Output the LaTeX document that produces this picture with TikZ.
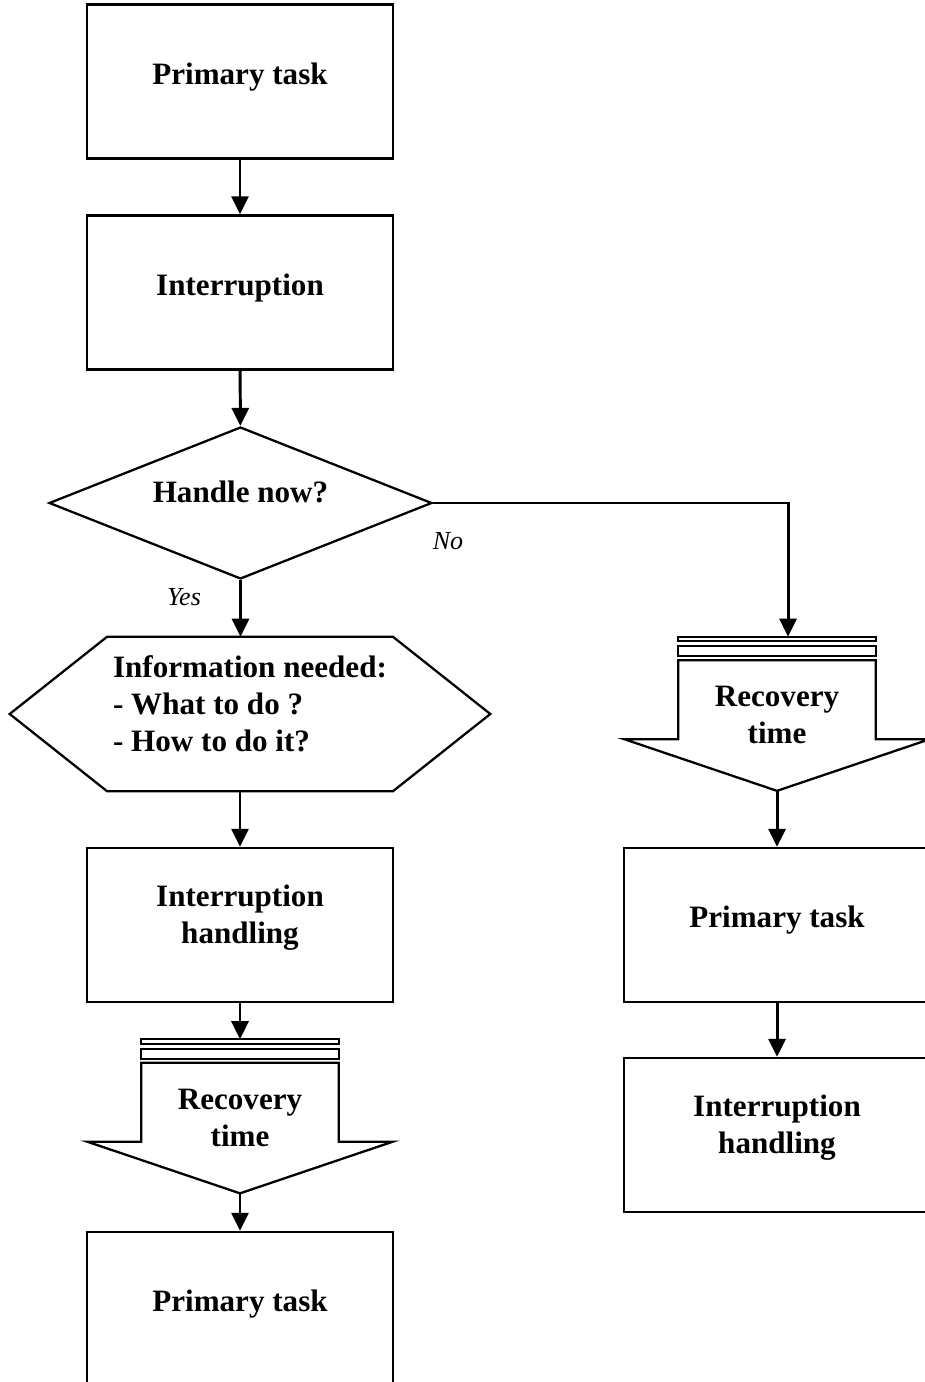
\documentclass[tikz,border=0pt]{standalone}
\usepackage{fontspec}
\setmainfont{Liberation Serif}
\usepackage{tikz}
\usetikzlibrary{shapes.geometric, arrows.meta, positioning, calc}

\begin{document}
\begin{tikzpicture}[
    x=0.02cm, y=-0.02cm,
    oneline/.style={text height=12pt, text depth=9pt},
    multiline/.style={text depth=12pt},
    box/.style={rectangle, draw=black, line width=1.3pt, minimum width=6.12cm, minimum height=3.08cm, inner sep=0pt, align=center, font=\bfseries\fontsize{17.7}{21}\selectfont},
    decision/.style={diamond, draw=black, line width=1.3pt, aspect=2.5, minimum width=7.66cm, minimum height=3.04cm, inner sep=0pt, align=center, text height=12pt, text depth=13pt, font=\bfseries\fontsize{17.7}{21}\selectfont},
    hexa/.style={rectangle, minimum width=9.6cm, minimum height=3.08cm, inner sep=0pt, align=left, multiline, font=\bfseries\fontsize{17.7}{21}\selectfont},
    recov/.style={rectangle, minimum width=3.94cm, minimum height=2.6cm, inner sep=0pt, align=center, multiline, font=\bfseries\fontsize{17.7}{21}\selectfont},
    outline/.style={draw=black, line width=1.3pt, line join=miter},
    lbl/.style={font=\itshape\fontsize{14.8}{17}\selectfont, inner sep=0pt},
    arrow/.style={-{Triangle[width=0.34cm, length=0.36cm]}, line width=1.7pt}
]
    \useasboundingbox (0,0) rectangle (924,1382);

    % Left column: handle the interruption now
    \node (prim1) [box, oneline] at (240,81.5) {Primary task};
    \node (intr) [box, oneline] at (240,292.5) {Interruption};
    \node (dec) [decision] at (240.5,503) {Handle now?};
    \node (info) [hexa] at (250,714) {Information needed:\\- What to do ?\\- How to do it?};
    \node (hand1) [box, multiline] at (240,925) {Interruption\\handling};
    \node (rec1) [recov] at (240,1128) {Recovery\\time};
    \node (prim3) [box, oneline] at (240,1309) {Primary task};

    % Right column: postpone the interruption
    \node (rec2) [recov] at (777,725.5) {Recovery\\time};
    \node (prim2) [box, oneline] at (777,925) {Primary task};
    \node (hand2) [box, multiline] at (777,1135) {Interruption\\handling};

    % Branch labels
    \node (no) [lbl] at (448,541) {No};
    \node (yes) [lbl] at (184,597) {Yes};

    % Hexagon outline
    \draw [outline] (info.west) -- ($(info.north west)+(97.5,0)$) -- ($(info.north east)+(-97.5,0)$)
        -- (info.east) -- ($(info.south east)+(-97.5,0)$) -- ($(info.south west)+(97.5,0)$) -- cycle;

    % Recovery arrows with their two bars
    \foreach \r in {rec1,rec2} {
        \draw [outline] (\r.north west) -- ++(0,79) -- ++(-54,0) -- (\r.south)
            -- ($(\r.north east)+(54,79)$) -- ++(-54,0) -- (\r.north east) -- cycle;
        \draw [outline] ($(\r.north west)+(0,-14)$) rectangle ($(\r.north east)+(0,-4)$);
        \draw [outline] ($(\r.north west)+(0,-23.5)$) rectangle ($(\r.north east)+(0,-19)$);
    }
    \coordinate (rec1in) at ($(rec1.north)+(0,-23.5)$);
    \coordinate (rec2in) at ($(rec2.north)+(11,-23.5)$);

    % Connecting Arrows
    \draw [arrow] (prim1) -- (intr);
    \draw [arrow] (intr) -- (dec);
    \draw [arrow] (dec.south) -- (dec.south |- info.north);
    \draw [arrow] (info.south -| hand1.north) -- (hand1.north);
    \draw [arrow] (hand1.south) -- (rec1in);
    \draw [arrow] (rec1) -- (prim3);
    \draw [arrow] (dec.east) -| (rec2in);
    \draw [arrow] (rec2) -- (prim2);
    \draw [arrow] (prim2) -- (hand2);

\end{tikzpicture}
\end{document}
